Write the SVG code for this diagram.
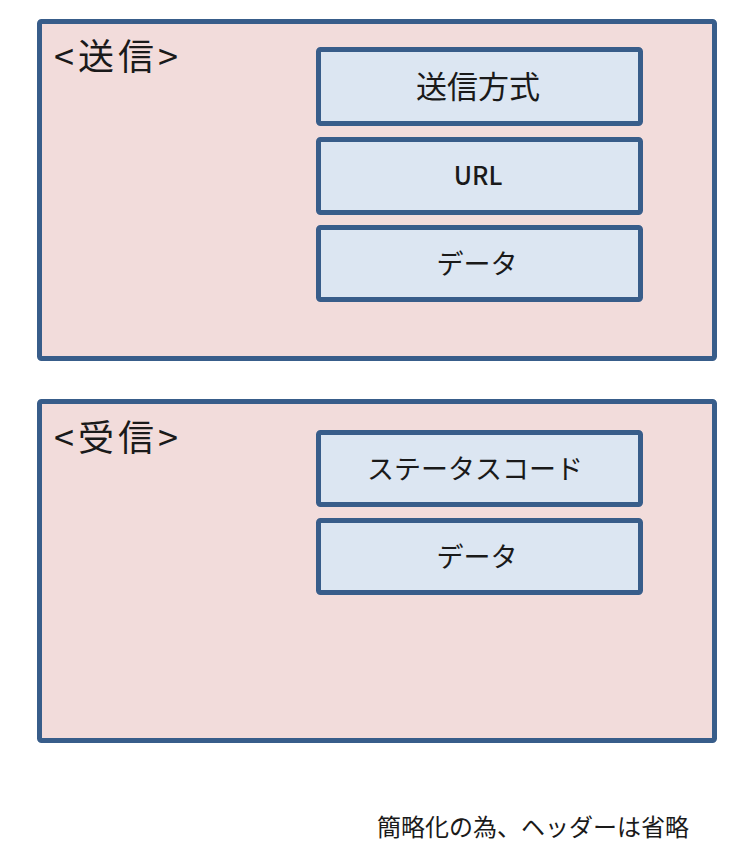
<svg xmlns="http://www.w3.org/2000/svg" width="740" height="856" viewBox="0 0 740 856">
<style>
.outer{fill:#f2dcdb;stroke:#385d8a;stroke-width:5}
.inner{fill:#dce6f2;stroke:#385d8a;stroke-width:5}
text{font-family:"Noto Sans CJK JP","Noto Sans",sans-serif;fill:#1a1a1a}
.lbl{font-size:27px;text-anchor:middle}
.title{font-size:36px;letter-spacing:4px}
</style>
<rect width="740" height="856" fill="#ffffff"/>
<g id="send">
<rect class="outer" x="39.5" y="21.5" width="675" height="337" rx="2"/>
<text class="title" x="54" y="70">&lt;送信&gt;</text>
</g>
<g id="send-method">
<rect class="inner" x="318.5" y="49.5" width="322" height="74" rx="2"/>
<text class="lbl" x="478" y="98" style="font-size:31px">送信方式</text>
</g>
<g id="send-url">
<rect class="inner" x="318.5" y="139.5" width="322" height="73" rx="2"/>
<text class="lbl" x="478" y="185" style="font-size:25px;font-weight:500">URL</text>
</g>
<g id="send-data">
<rect class="inner" x="318.5" y="227.5" width="322" height="72" rx="2"/>
<text class="lbl" x="477" y="274">データ</text>
</g>
<g id="recv">
<rect class="outer" x="39.5" y="401.5" width="675" height="339" rx="2"/>
<text class="title" x="54" y="451">&lt;受信&gt;</text>
</g>
<g id="recv-status">
<rect class="inner" x="318.5" y="432.5" width="322" height="72" rx="2"/>
<text class="lbl" x="475" y="479">ステータスコード</text>
</g>
<g id="recv-data">
<rect class="inner" x="318.5" y="520.5" width="322" height="72" rx="2"/>
<text class="lbl" x="477" y="567">データ</text>
</g>
<g id="connectors"></g>
<text x="377" y="836" style="font-size:24px">簡略化の為、ヘッダーは省略</text>
</svg>
